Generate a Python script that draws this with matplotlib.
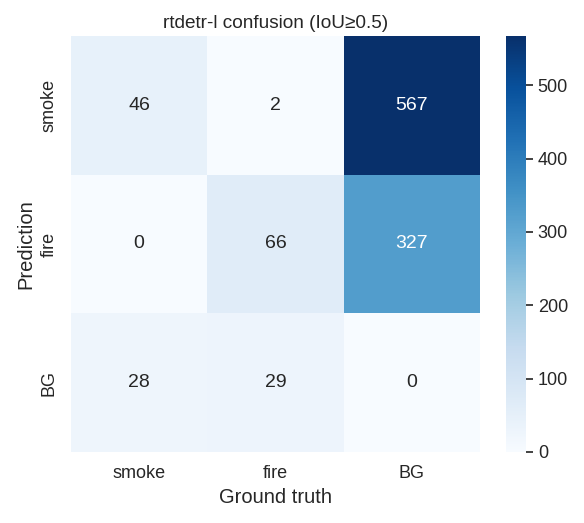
import matplotlib
matplotlib.use("Agg")
import matplotlib.pyplot as plt
import numpy as np
import seaborn as sns

labels = ["smoke", "fire", "BG"]
counts = np.array([
    [46, 2, 567],
    [0, 66, 327],
    [28, 29, 0],
])

sns.set_theme(style="white")
plt.rcParams["font.family"] = ["Liberation Sans", "DejaVu Sans"]

W, H = 584, 523
fig = plt.figure(figsize=(W / 100, H / 100), dpi=100)
ax = fig.add_axes([71 / W, (H - 452) / H, 409 / W, 416 / H])
cax = fig.add_axes([506 / W, (H - 452) / H, 20 / W, 416 / H])

sns.heatmap(counts, annot=True, fmt="d", cmap="Blues", ax=ax, cbar_ax=cax,
            xticklabels=labels, yticklabels=labels,
            annot_kws={"fontsize": 14})
ax.set_xlabel("Ground truth", fontsize=14.5)
ax.set_ylabel("Prediction", fontsize=14.5)
ax.set_title("rtdetr-l confusion (IoU≥0.5)", fontsize=13.7)
ax.tick_params(labelsize=13)
cax.tick_params(labelsize=13, length=5, width=1.2, color="#222222")

fig.savefig("out.png")
